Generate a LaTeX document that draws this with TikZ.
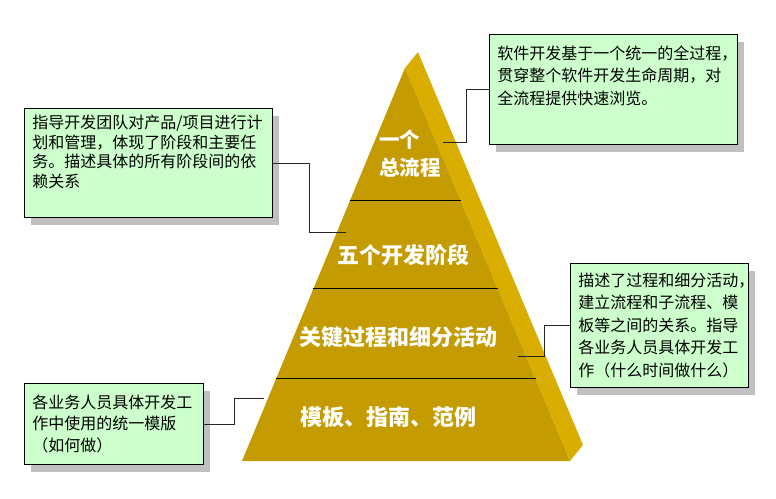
\documentclass[tikz,border=0pt]{standalone}
\usepackage{fontspec}
\usepackage{tikz}
\usetikzlibrary{positioning,calc,shadows}
\newfontfamily\cjk{Noto Sans CJK SC}

\begin{document}
\begin{tikzpicture}[x=1pt,y=-1pt,
  notebox/.style={draw=black, line width=0.8pt, fill=notegreen, anchor=north west, inner xsep=8pt,
    general shadow={fill=shadowgray, shadow xshift=7pt, shadow yshift=-8pt}},
  notefont/.style={font=\cjk\fontsize{16}{22.5}\selectfont, text=black},
  layerlabel/.style={font=\cjk\bfseries\fontsize{22}{28}\selectfont, text=white},
  lead/.style={draw=black!85, line width=0.8pt},
  divider/.style={draw=black, line width=0.8pt}]
  \definecolor{frontface}{HTML}{C49B00}
  \definecolor{sideface}{HTML}{D9AE00}
  \definecolor{notegreen}{HTML}{CCFFCC}
  \definecolor{shadowgray}{HTML}{C0C0C0}

  \useasboundingbox (0,0) rectangle (776,498);

  % pyramid
  \coordinate (apex) at (405,68);
  \coordinate (baseleft) at (242,461);
  \coordinate (baseright) at (570,461);
  \fill[sideface] (apex) -- ($(apex)+(13,-16)$) -- ($(baseright)+(13,-16)$) -- (baseright) -- cycle;
  \fill[frontface] (apex) -- (baseleft) -- (baseright) -- cycle;
  \foreach \t in {0.338,0.562,0.791}
    \draw[divider] ($(apex)!\t!(baseleft)$) -- ($(apex)!\t!(baseright)$);

  \node[layerlabel, font=\cjk\bfseries\fontsize{20.5}{28}\selectfont, align=left] (flowlabel) at (410,154) {一个\\总流程};
  \node[layerlabel] (phaselabel) at (403,255) {五个开发阶段};
  \node[layerlabel] (activitylabel) at (398,337) {关键过程和细分活动};
  \node[layerlabel] (templatelabel) at (388,417) {模板、指南、范例};

  % notes
  \node[notebox, notefont, inner ysep=11pt] (flownote) at (489,34)
    {\parbox[c][88pt][t]{232pt}{软件开发基于一个统一的全过程，\\贯穿整个软件开发生命周期，对\\全流程提供快速浏览。}};
  \node[notebox, notefont, font=\cjk\fontsize{16}{19.5}\selectfont, inner ysep=7pt] (phasenote) at (24,108)
    {\parbox[c][95pt][t]{232pt}{指导开发团队对产品/项目进行计\\划和管理，体现了阶段和主要任\\务。描述具体的所有阶段间的依\\赖关系}};
  \node[notebox, notefont, inner ysep=0pt] (activitynote) at (570,263)
    {\parbox[c][124pt][c]{162pt}{描述了过程和细分活动，\\建立流程和子流程、模\\板等之间的关系。指导\\各业务人员具体开发工\\作（什么时间做什么）}};
  \node[notebox, notefont, font=\cjk\fontsize{16}{21.5}\selectfont, inner ysep=0pt] (templatenote) at (24,383)
    {\parbox[c][81pt][c]{163pt}{各业务人员具体开发工\\作中使用的统一模版\\（如何做）}};

  % leaders
  \coordinate (flowpin) at (443,142);
  \coordinate (phasepin) at (346,232);
  \coordinate (activitypin) at (518,356);
  \coordinate (templatepin) at (264,398);
  \draw[lead] (flownote.west) -| ([xshift=23pt]flowpin) -- (flowpin);
  \draw[lead] (phasenote.east) -| ([xshift=-37pt]phasepin) -- (phasepin);
  \draw[lead] (activitynote.west) -| ([xshift=26pt]activitypin) -- (activitypin);
  \draw[lead] (templatenote.east) -| ([xshift=-30pt]templatepin) -- (templatepin);

\end{tikzpicture}
\end{document}
